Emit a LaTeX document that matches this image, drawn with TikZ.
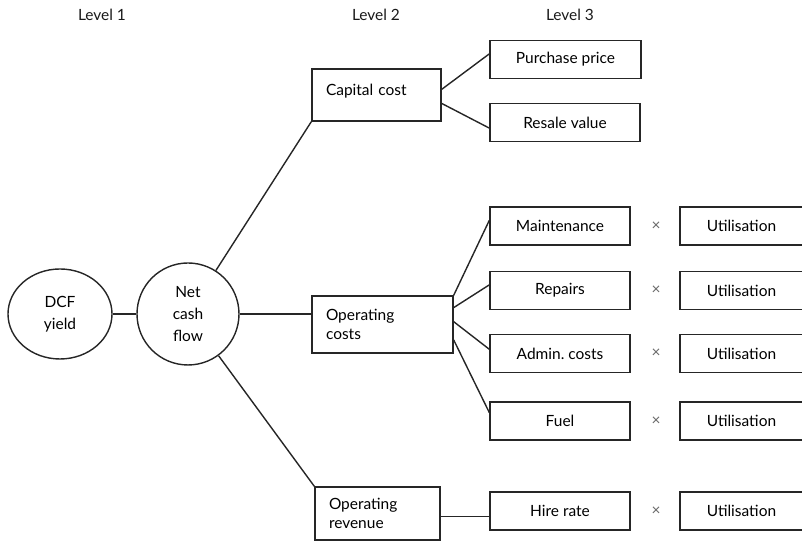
\documentclass[tikz,border=0pt]{standalone}
\usepackage{fontspec}
\setmainfont{Lato}
\usepackage{tikz}
\usetikzlibrary{positioning, calc, shapes.geometric}
\tikzset{
	link/.style={line width=1pt, draw=black!85},
	lvone/.style={draw=black!85, line width=1pt, align=center, inner sep=0pt, font=\fontsize{11}{15.5}\selectfont},
	lvtwo/.style={draw=black!85, line width=1pt, align=left, text width=#1, inner xsep=0.35cm},
	lvthree/.style={draw=black!85, line width=1pt, minimum width=3.5cm, minimum height=0.95cm},
	util/.style={draw=black!85, line width=1pt, minimum width=3.075cm, minimum height=0.95cm},
	times/.style={text=black!60},
	header/.style={text=black!90},
}

\begin{document}
\frenchspacing
\begin{tikzpicture}[font=\fontsize{11}{14}\selectfont]
			\useasboundingbox (0,0) rectangle (20.05,13.55);

			\node[header] (L1) at (2.55,13.175) {Level 1};
			\node[header] (L2) at (9.4,13.175) {Level 2};
			\node[header] (L3) at (14.25,13.175) {Level 3};

			\node[lvone, ellipse, minimum width=2.6cm, minimum height=2.25cm] (dcf) at (1.5,5.7) {DCF\\yield};
			\node[lvone, circle, minimum size=2.55cm] (ncf) at (4.7,5.7) {Net\\cash\\flow};

			\node[lvtwo=2.525cm, minimum height=1.3cm, text depth=8pt] (cap) at (9.4125,11.175) {Capital cost};
			\node[lvtwo=2.825cm, minimum height=1.425cm] (opc) at (9.5625,5.4375) {Operating\\costs};
			\node[lvtwo=2.425cm, minimum height=1.325cm] (opr) at (9.4375,0.7125) {Operating\\revenue};

			\node[lvthree, minimum width=3.775cm] (pp) at (14.1375,12.0625) {Purchase price};
			\node[lvthree, minimum width=3.75cm] (rv) at (14.125,10.4875) {Resale value};
			\node[lvthree] (mnt) at (14,7.9) {Maintenance};
			\node[lvthree] (rep) at (14,6.2875) {Repairs};
			\node[lvthree] (adm) at (14,4.7125) {Admin. costs};
			\node[lvthree] (fuel) at (14,3.025) {Fuel};
			\node[lvthree] (hire) at (14,0.775) {Hire rate};

			\foreach \n/\y in {1/7.9, 2/6.2875, 3/4.7125, 4/3.025, 5/0.775} {
				\node[times] (X\n) at (16.4,\y) {×};
				\node[util] (U\n) at (18.5375,\y) {Utilisation};
			}

			\draw[link] (dcf) -- (ncf);
			\draw[link] (ncf) -- (cap.south west);
			\draw[link] (ncf) -- (ncf -| opc.west);
			\draw[link] (ncf) -- (opr.north west);

			\draw[link] ([yshift=4pt]cap.east) -- ([yshift=4pt]pp.west);
			\draw[link] ([yshift=-6pt]cap.east) -- ([yshift=-4pt]rv.west);

			\draw[link] (opc.north east) -- ([yshift=4pt]mnt.west);
			\draw[link] ([yshift=12pt]opc.east) -- ([yshift=4pt]rep.west);
			\draw[link] ([yshift=2pt]opc.east) -- ([yshift=3pt]adm.west);
			\draw[link] ([yshift=-11pt]opc.east) -- ([yshift=6pt]fuel.west);
			\draw[link] ([yshift=-2pt]opr.east) -- ([yshift=-2pt]opr.east -| hire.west);
		\end{tikzpicture}
\end{document}
